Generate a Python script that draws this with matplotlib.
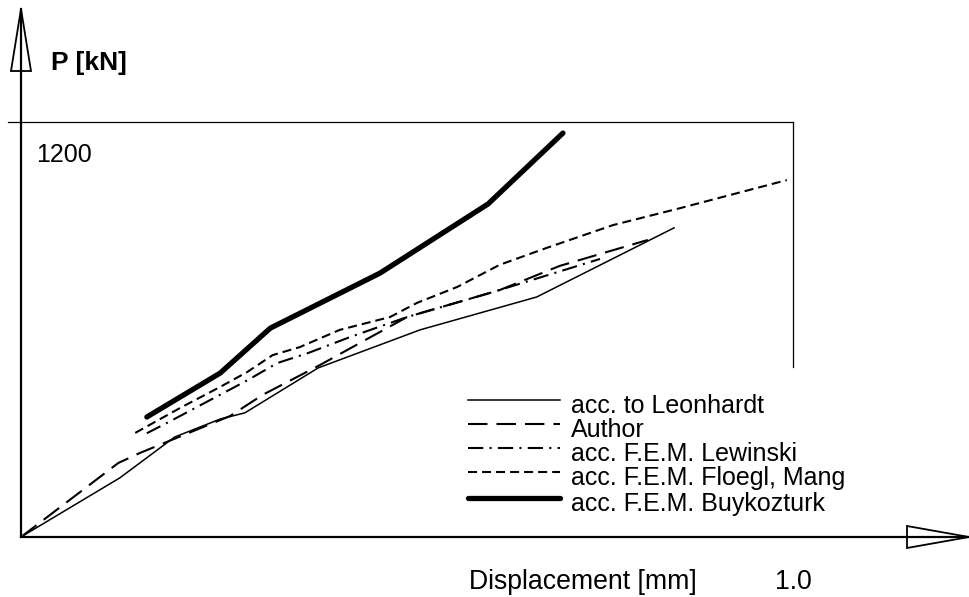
#!/usr/bin/env python3
"""Load-displacement curves: P [kN] vs displacement [mm], five methods."""

import matplotlib
matplotlib.use('Agg')
import matplotlib.pyplot as plt
from matplotlib.patches import Polygon
from matplotlib.lines import Line2D

plt.rcParams['font.family'] = ['Liberation Sans', 'DejaVu Sans']
plt.rcParams['lines.scale_dashes'] = False

# displacement [mm] and load [kN]
leon_x = [0, 0.128, 0.199, 0.258, 0.290, 0.385, 0.517, 0.668, 0.846]
leon_p = [0, 171, 289, 341, 359, 489, 599, 694, 894]

author_x = [0, 0.126, 0.154, 0.189, 0.271, 0.313, 0.387, 0.500, 0.620, 0.698, 0.812]
author_p = [0, 214, 243, 275, 350, 411, 497, 636, 714, 784, 859]

lew_x = [0.163, 0.196, 0.245, 0.294, 0.332, 0.372, 0.426, 0.500, 0.608, 0.750]
lew_p = [300, 338, 396, 454, 503, 532, 578, 636, 706, 804]

flo_x = [0.148, 0.206, 0.258, 0.293, 0.326, 0.361, 0.413, 0.478, 0.513, 0.565,
         0.620, 0.681, 0.767, 0.854, 0.992]
flo_p = [301, 373, 434, 477, 526, 549, 599, 636, 677, 723, 787, 836, 902, 951, 1032]

buy_x = [0.163, 0.258, 0.323, 0.465, 0.605, 0.702]
buy_p = [347, 474, 604, 763, 963, 1168]

labels = ['acc. to Leonhardt', 'Author', 'acc. F.E.M. Lewinski',
          'acc. F.E.M. Floegl, Mang', 'acc. F.E.M. Buykozturk']

W, H = 970, 597
X_REF, P_REF = 1.0, 1200


def px(x, y):
    # pixel position (from top-left) -> figure fraction
    return x / W, 1 - y / H


def main():
    fig = plt.figure(figsize=(W / 100, H / 100), dpi=100)
    ax = fig.add_axes([0, 0, 1, 1])
    # origin sits at (21, 537) px, 1.0 mm at 793 px, 1200 kN at 122 px
    sx = 772.0
    sy = 415.0 / 1200
    ax.set_xlim(-21 / sx, (W - 21) / sx)
    ax.set_ylim((537 - H) / sy, 537 / sy)
    ax.axis('off')

    styles = [
        dict(color='black', lw=1.1, ls='-'),
        dict(color='black', lw=1.5, ls=(0, (14, 6.5))),
        dict(color='black', lw=1.5, ls=(0, (11, 4.5, 1.5, 4.5))),
        dict(color='black', lw=1.5, ls=(0, (6.5, 3.6))),
        dict(color='black', lw=3.8, ls='-', solid_capstyle='round'),
    ]
    series = [(leon_x, leon_p), (author_x, author_p), (lew_x, lew_p),
              (flo_x, flo_p), (buy_x, buy_p)]
    for (xs, ps), st in zip(series, styles):
        ax.plot(xs, ps, **st)

    # reference frame lines at 1200 kN and 1.0 mm
    ax.plot([-13 / sx, X_REF], [P_REF, P_REF], color='black', lw=0.9)
    ax.plot([X_REF, X_REF], [P_REF, (537 - 367) / sy], color='black', lw=0.9)

    # axes with open arrowheads
    ax.plot([0, 0], [0, (537 - 9) / sy], color='black', lw=1.6)
    ax.plot([0, (969 - 21) / sx], [0, 0], color='black', lw=1.6)
    fig.add_artist(Polygon([px(21, 9), px(11, 71), px(31, 71)], closed=True,
                           fill=False, ec='black', lw=1.3, transform=fig.transFigure))
    fig.add_artist(Polygon([px(969, 537), px(907, 526), px(907, 548)], closed=True,
                           fill=False, ec='black', lw=1.3, transform=fig.transFigure))

    # hand-made legend
    rows = [400, 424, 448, 472, 498]
    for st, lab, ry in zip(styles, labels, rows):
        fig.add_artist(Line2D([468 / W, 560 / W], [1 - ry / H, 1 - ry / H],
                              transform=fig.transFigure, **st))
        fig.text(*px(571, ry + 13), lab, fontsize=18, va='baseline', ha='left')

    fig.text(*px(51, 70), 'P [kN]', fontsize=19, fontweight='bold', va='baseline')
    fig.text(*px(36, 162), '1200', fontsize=18, va='baseline')
    fig.text(*px(469, 589), 'Displacement [mm]', fontsize=19.2, va='baseline')
    fig.text(*px(775, 589), '1.0', fontsize=19.2, va='baseline')

    fig.savefig('out.png', dpi=100)
    plt.close(fig)


if __name__ == '__main__':
    main()
